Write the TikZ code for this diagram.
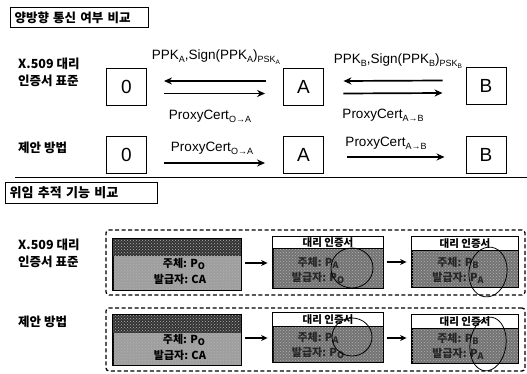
\documentclass[tikz,border=0pt]{standalone}
\usepackage{fontspec}
\setmainfont{Liberation Sans}
\newfontfamily\kr{Noto Sans CJK KR}
\usetikzlibrary{arrows.meta,patterns}
% subscripts for the message labels
\newcommand\lo[1]{\raisebox{-0.45ex}{\fontsize{9}{9}\selectfont #1}}
\newcommand\llo[1]{\raisebox{-0.35ex}{\fontsize{6.5}{6.5}\selectfont #1}}

\begin{document}
\begin{tikzpicture}[x=1pt,y=-1pt,
  title/.style={draw, line width=1.1pt, font=\kr\bfseries\fontsize{12.5}{13}\selectfont,
    align=left, inner xsep=4pt, inner ysep=0pt, minimum height=20pt, anchor=north west},
  party/.style={draw, line width=0.9pt, minimum width=40pt, minimum height=37pt,
    font=\fontsize{19}{20}\selectfont},
  rowlabel/.style={font=\kr\bfseries\fontsize{12.5}{17}\selectfont, align=left,
    anchor=west, inner sep=0pt},
  msg/.style={font=\fontsize{13.5}{14}\selectfont, inner sep=0pt},
  arr/.style={line width=1.7pt, -{Stealth[length=8pt,width=7pt]}},
  carr/.style={line width=1.4pt, -{Stealth[length=6.5pt,width=6pt]}},
  frame/.style={draw, line width=1.3pt, dash pattern=on 4pt off 2.5pt, rounded corners=3pt},
  cert/.style={draw, line width=0.9pt, inner sep=0pt, fill=black!55},
  grain/.style={pattern=crosshatch dots, pattern color=white!70!black},
  body/.style={font=\kr\bfseries\fontsize{11}{14}\selectfont, inner sep=0pt},
  head/.style={font=\kr\bfseries\fontsize{10.5}{12}\selectfont, inner sep=0pt},
  loop/.style={line width=0.8pt}
]
\useasboundingbox (0,0) rectangle (527,374);

% ---------- section headings ----------
\node[title, text width=130pt] (t1) at (10,7) {양방향 통신 여부 비교};
\coordinate (sepL) at (15,177);
\coordinate (sepR) at (527,177);
\draw[line width=0.9pt] (sepL) -- (sepR);
\node[title, text width=144pt, minimum height=21pt,
      font=\kr\bfseries\fontsize{13}{13}\selectfont] (t2) at (5,182) {위임 추적 기능 비교};

% ---------- row labels ----------
\node[rowlabel] (l1) at (18,72) {X.509 대리\\인증서 표준};
\node[rowlabel] (l2) at (18,148) {제안 방법};
\node[rowlabel] (l3) at (18,253.5) {X.509 대리\\인증서 표준};
\node[rowlabel] (l4) at (18,322) {제안 방법};

% ---------- parties ----------
\node[party] (o1) at (126.5,86.5) {0};
\node[party] (a1) at (303.5,86.5) {A};
\node[party] (b1) at (486,86) {B};
\node[party] (o2) at (126.5,155) {0};
\node[party] (a2) at (303.5,155) {A};
\node[party] (b2) at (486,155) {B};

% two-way exchange (X.509 proxy standard)
\draw[arr] ([xshift=-17pt,yshift=5.5pt]a1.west) -- ([xshift=17pt,yshift=5.5pt]o1.east);
\draw[arr] ([xshift=17pt,yshift=-7pt]o1.east) -- ([xshift=-18pt,yshift=-7pt]a1.west);
\draw[arr] ([xshift=-23pt,yshift=5.5pt]b1.west) -- ([xshift=19.5pt,yshift=5.5pt]a1.east);
\draw[arr] ([xshift=19.5pt,yshift=-7pt]a1.east) -- ([xshift=-23pt,yshift=-7pt]b1.west);
\node[msg] (m1) at (216,57) {PPK\lo{A},Sign(PPK\lo{A})\lo{PSK\llo{A}}};
\node[msg] (m2) at (210,116) {ProxyCert\lo{O→A}};
\node[msg] (m3) at (398,61) {PPK\lo{B},Sign(PPK\lo{B})\lo{PSK\llo{B}}};
\node[msg] (m4) at (383,115) {ProxyCert\lo{A→B}};

% one-way delivery (proposed method)
\draw[arr] ([xshift=17pt,yshift=-8pt]o2.east) -- ([xshift=-18pt,yshift=-8pt]a2.west);
\draw[arr] ([xshift=23.5pt,yshift=-2pt]a2.east) -- ([xshift=-21pt,yshift=-2pt]b2.west);
\node[msg] (m5) at (212,148) {ProxyCert\lo{O→A}};
\node[msg] (m6) at (386,143) {ProxyCert\lo{A→B}};

% ---------- delegation tracing ----------
\node[frame, minimum width=419pt, minimum height=65pt] (f1) at (315.5,262.5) {};
\node[frame, minimum width=419pt, minimum height=63pt] (f2) at (315.5,339.5) {};

% certificates
\node[cert, fill=black!38, minimum width=128pt, minimum height=51pt] (c11) at (177,264.5) {};
\node[cert, minimum width=110pt, minimum height=51pt] (c12) at (328,262.5) {};
\node[cert, minimum width=106pt, minimum height=50pt] (c13) at (465,262) {};
\node[cert, fill=black!38, minimum width=128pt, minimum height=50pt] (c21) at (177,340) {};
\node[cert, minimum width=110pt, minimum height=49pt] (c22) at (328,337.5) {};
\node[cert, minimum width=106pt, minimum height=48pt] (c23) at (465,339) {};

\foreach \c in {c11,c12,c13,c21,c22,c23}
  \fill[grain] (\c.north west) rectangle (\c.south east);

% headers: dark band on the base certificate, white title on proxies
\fill[black!80] (c11.north west) rectangle ([yshift=-17pt]c11.north east);
\fill[grain] (c11.north west) rectangle ([yshift=-17pt]c11.north east);
\fill[black!80] (c21.north west) rectangle ([yshift=-18pt]c21.north east);
\fill[grain] (c21.north west) rectangle ([yshift=-18pt]c21.north east);
\foreach \c/\h in {c12/12,c13/14,c22/14,c23/14}{
  \filldraw[fill=white, line width=0.9pt] (\c.north west) rectangle ([yshift=-\h pt]\c.north east);
  \node[head] at ([yshift=-\h/2 pt]\c.north) {대리 인증서};
}
\foreach \c in {c11,c12,c13,c21,c22,c23}
  \draw[line width=0.9pt] (\c.north west) rectangle (\c.south east);

% certificate contents
\node[body] (s11) at (184,264) {주체: P\lo{O}};
\node[body] (i11) at (180,279) {발급자: CA};
\node[body] (s21) at (184,340) {주체: P\lo{O}};
\node[body] (i21) at (180,355) {발급자: CA};
\node[body, text=black!85] (s12) at (318,263) {주체: P\lo{A}};
\node[body, text=black!85] (i12) at (318,278) {발급자: P\lo{O}};
\node[body, text=black!85] (s13) at (458,263) {주체: P\lo{B}};
\node[body, text=black!85] (i13) at (458,278) {발급자: P\lo{A}};
\node[body, text=black!85] (s22) at (318,338) {주체: P\lo{A}};
\node[body, text=black!85] (i22) at (318,353) {발급자: P\lo{O}};
\node[body, text=black!85] (s23) at (458,339) {주체: P\lo{B}};
\node[body, text=black!85] (i23) at (458,354) {발급자: P\lo{A}};

% marked issuer fields
\draw[loop] (352,268) ellipse [x radius=21, y radius=20];
\draw[loop, rotate around={-8:(488,272)}] (488,272) ellipse [x radius=19, y radius=25];
\draw[loop] (352,337) ellipse [x radius=20, y radius=19];
\draw[loop, rotate around={-8:(488,344)}] (488,344) ellipse [x radius=18, y radius=27];

% certificate chain arrows
\draw[carr] ([xshift=4pt,yshift=1.5pt]c11.east) -- ([xshift=-5pt,yshift=-0.5pt]c12.west);
\draw[carr] ([xshift=4pt,yshift=0.5pt]c12.east) -- ([xshift=-5pt]c13.west);
\draw[carr] ([xshift=4pt,yshift=2pt]c21.east) -- ([xshift=-5pt,yshift=-0.5pt]c22.west);
\draw[carr] ([xshift=4pt,yshift=-0.5pt]c22.east) -- ([xshift=-5pt,yshift=1pt]c23.west);
\end{tikzpicture}
\end{document}
